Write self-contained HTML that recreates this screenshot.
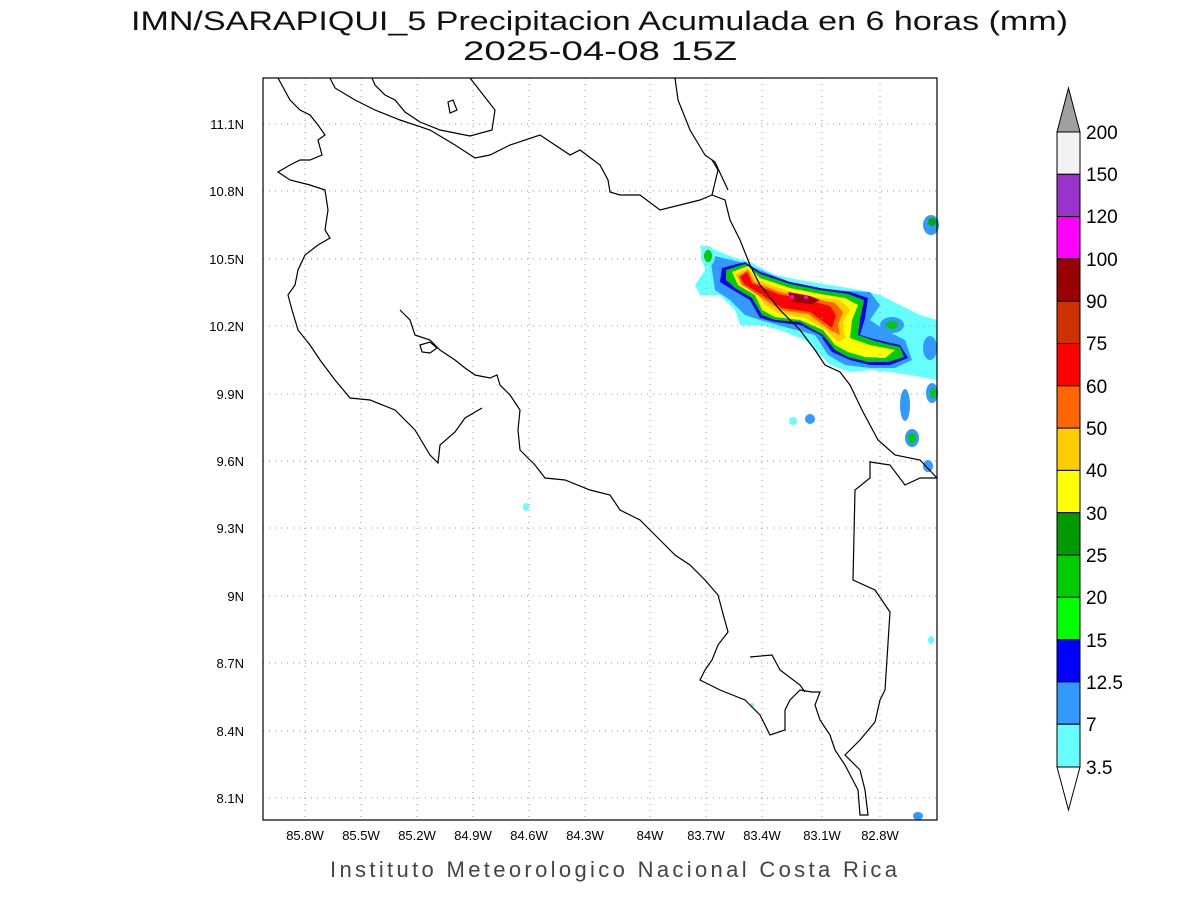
<!DOCTYPE html>
<html><head><meta charset="utf-8"><style>
html,body{margin:0;padding:0;background:#fff;}
svg text{font-family:"Liberation Sans",sans-serif;}
</style></head><body>
<svg width="1200" height="900" viewBox="0 0 1200 900" xmlns="http://www.w3.org/2000/svg">
<rect width="1200" height="900" fill="#fff"/>
<text x="131" y="30" font-size="27" textLength="937" lengthAdjust="spacingAndGlyphs" fill="#111">IMN/SARAPIQUI_5 Precipitacion Acumulada en 6 horas (mm)</text>
<text x="463" y="60" font-size="27" textLength="274" lengthAdjust="spacingAndGlyphs" fill="#111">2025-04-08 15Z</text>

<!-- precipitation -->
<g>
<path d="M700,245 L715,250 L735,258 L750,262 L775,275 L800,280 L830,285 L860,290 L880,295 L900,305 L920,315 L937,320 L937,380 L910,375 L890,372 L870,370 L850,372 L830,365 L820,355 L805,340 L780,330 L760,325 L740,325 L735,310 L720,295 L700,295 L695,285 L705,270 Z" fill="#66ffff"/>
<path d="M710,255 L740,262 L760,270 L790,282 L830,290 L870,292 L880,305 L870,320 L885,330 L905,340 L912,360 L895,368 L870,368 L845,365 L828,355 L815,335 L785,327 L760,320 L745,315 L730,300 L715,290 L712,270 Z" fill="#3399ff"/>
<path d="M722,268 L745,262 L760,272 L790,282 L820,288 L850,292 L868,298 L865,318 L860,335 L878,340 L900,345 L908,358 L890,365 L870,365 L850,360 L832,352 L820,335 L800,325 L775,322 L760,318 L750,300 L733,290 L720,282 Z" fill="#0000ee"/>
<path d="M726,270 L745,264 L760,274 L790,284 L820,290 L848,294 L864,300 L860,320 L858,335 L878,342 L900,347 L904,357 L888,362 L868,362 L848,357 L835,350 L823,335 L800,322 L775,320 L762,315 L752,298 L735,288 L726,280 Z" fill="#00cc00"/>
<path d="M732,272 L748,266 L760,278 L790,288 L820,294 L845,298 L858,305 L852,320 L850,338 L870,345 L895,350 L885,358 L865,357 L848,352 L835,345 L823,330 L800,320 L775,317 L762,310 L755,295 L738,285 Z" fill="#ffff00"/>
<path d="M735,274 L748,268 L757,280 L785,290 L815,297 L840,300 L850,310 L843,322 L845,338 L838,342 L826,330 L805,318 L780,314 L765,305 L757,293 L740,285 Z" fill="#ffcc00"/>
<path d="M738,276 L748,270 L754,282 L780,292 L810,298 L835,303 L843,312 L838,325 L840,335 L830,330 L808,314 L780,310 L768,302 L742,285 Z" fill="#ff6600"/>
<path d="M740,277 L747,272 L752,283 L778,294 L808,300 L830,306 L836,315 L832,328 L810,312 L782,308 L770,300 L744,284 Z" fill="#ff0000"/>
<path d="M788,292 L810,296 L820,300 L812,304 L792,302 Z" fill="#990000"/>
<circle cx="792" cy="297" r="2" fill="#ff00ff"/><circle cx="806" cy="297" r="2" fill="#ff00ff"/>
<ellipse cx="708" cy="256" rx="7" ry="10" fill="#66ffff"/><ellipse cx="708" cy="256" rx="4" ry="6" fill="#00cc00"/>
<ellipse cx="892" cy="325" rx="12" ry="8" fill="#3399ff"/><ellipse cx="892" cy="325" rx="6" ry="4" fill="#00cc00"/>
<ellipse cx="931" cy="225" rx="8" ry="10" fill="#3399ff"/><ellipse cx="932" cy="222" rx="4" ry="4" fill="#00aa00"/>
<ellipse cx="930" cy="348" rx="7" ry="12" fill="#3399ff"/>
<ellipse cx="932" cy="393" rx="6" ry="10" fill="#3399ff"/><ellipse cx="933" cy="393" rx="3" ry="5" fill="#00cc00"/>
<ellipse cx="905" cy="405" rx="5" ry="16" fill="#3399ff"/>
<ellipse cx="912" cy="438" rx="7" ry="9" fill="#3399ff"/><ellipse cx="912" cy="438" rx="4" ry="5" fill="#00cc00"/>
<ellipse cx="928" cy="466" rx="5" ry="6" fill="#3399ff"/>
<ellipse cx="810" cy="419" rx="5" ry="5" fill="#3399ff"/><ellipse cx="793" cy="421" rx="4" ry="4" fill="#66ffff"/>
<ellipse cx="526" cy="507" rx="3" ry="4" fill="#66ffff"/>
<ellipse cx="931" cy="640" rx="3" ry="4" fill="#66ffff"/>
<ellipse cx="918" cy="816" rx="5" ry="4" fill="#3399ff"/>
<ellipse cx="752" cy="705" rx="2" ry="2" fill="#66ffff"/>
</g>

<!-- grid -->
<g stroke="#999" stroke-width="1" stroke-dasharray="1,5">
<line x1="305" y1="78" x2="305" y2="820"/><line x1="361" y1="78" x2="361" y2="820"/><line x1="417" y1="78" x2="417" y2="820"/><line x1="473" y1="78" x2="473" y2="820"/><line x1="529" y1="78" x2="529" y2="820"/><line x1="585" y1="78" x2="585" y2="820"/><line x1="650" y1="78" x2="650" y2="820"/><line x1="706" y1="78" x2="706" y2="820"/><line x1="762" y1="78" x2="762" y2="820"/><line x1="822" y1="78" x2="822" y2="820"/><line x1="880" y1="78" x2="880" y2="820"/>
<line x1="263" y1="124" x2="937" y2="124"/><line x1="263" y1="191" x2="937" y2="191"/><line x1="263" y1="259" x2="937" y2="259"/><line x1="263" y1="326" x2="937" y2="326"/><line x1="263" y1="394" x2="937" y2="394"/><line x1="263" y1="461" x2="937" y2="461"/><line x1="263" y1="528" x2="937" y2="528"/><line x1="263" y1="596" x2="937" y2="596"/><line x1="263" y1="663" x2="937" y2="663"/><line x1="263" y1="731" x2="937" y2="731"/><line x1="263" y1="798" x2="937" y2="798"/>
</g>

<!-- coastlines -->
<g fill="none" stroke="#000" stroke-width="1.2">
<path d="M278,78 L290,100 L300,110 L310,115 L318,125 L325,135 L318,140 L322,155 L310,160 L300,160 L290,165 L278,172 L290,180 L310,185 L325,190 L328,210 L325,230 L330,238 L318,245 L305,255 L298,270 L295,285 L288,295 L292,310 L298,330 L310,345 L320,360 L335,380 L350,398 L370,400 L395,410 L415,430 L430,455 L438,463 L440,445 L455,432 L465,418 L482,408"/>
<path d="M400,310 L410,320 L415,335 L430,340 L440,350 L455,360 L465,368 L475,375 L490,378 L497,375 L500,385 L510,395 L520,410 L518,430 L520,450 L535,465 L545,478 L565,480 L590,490 L610,495 L620,510 L640,520 L660,540 L675,555 L690,565 L705,580 L718,595 L722,610 L728,632 L718,645 L712,660 L705,670 L700,680 L720,690 L745,700 L760,715 L770,735 L785,730 L785,710 L790,700 L800,690 L812,692 L820,692 L815,705 L820,720 L830,735 L835,750 L845,765 L858,790 L860,815 L868,815 L865,790 L860,770 L845,755 L860,740 L875,722 L880,700 L885,690 L890,612 L875,590 L853,580 L855,490 L870,478 L870,462 L890,465 L905,485 L920,478 L937,478"/>
<path d="M750,657 L772,655 L780,670 L800,685 L805,692"/>
<path d="M420,345 L430,342 L437,348 L430,353 L422,352 Z"/>
<path d="M330,78 L335,88 L355,100 L375,110 L400,120 L430,130 L455,145 L475,158 L490,155 L510,145 L540,135 L555,145 L570,155 L580,150 L600,165 L608,180 L610,192 L620,195 L640,195 L660,210 L680,205 L700,200 L712,195 L718,170 L712,160"/>
<path d="M675,78 L678,100 L690,130 L705,155 L715,162 L728,190"/>
<path d="M470,78 L495,110 L492,130 L470,136 L440,130 L420,122 L405,112 L395,100 L385,95 L375,85 L372,78"/>
<path d="M448,102 L453,100 L457,110 L450,113 Z"/>
<path d="M712,195 L725,200 L730,220 L740,240 L750,265 L760,285 L780,310 L800,330 L815,350 L825,365 L840,372 L850,385 L862,410 L878,440 L895,455 L920,460 L937,478"/>
</g>

<rect x="263" y="78" width="674" height="742" fill="none" stroke="#000" stroke-width="1.2"/>

<g font-size="13" fill="#000" text-anchor="middle">
<text x="305" y="840">85.8W</text><text x="361" y="840">85.5W</text><text x="417" y="840">85.2W</text><text x="473" y="840">84.9W</text><text x="529" y="840">84.6W</text><text x="585" y="840">84.3W</text><text x="650" y="840">84W</text><text x="706" y="840">83.7W</text><text x="762" y="840">83.4W</text><text x="822" y="840">83.1W</text><text x="880" y="840">82.8W</text>
</g>
<g font-size="13" fill="#000" text-anchor="end">
<text x="244" y="129">11.1N</text><text x="244" y="196">10.8N</text><text x="244" y="264">10.5N</text><text x="244" y="331">10.2N</text><text x="244" y="399">9.9N</text><text x="244" y="466">9.6N</text><text x="244" y="533">9.3N</text><text x="244" y="601">9N</text><text x="244" y="668">8.7N</text><text x="244" y="736">8.4N</text><text x="244" y="803">8.1N</text>
</g>
<text x="330" y="877" font-size="22" textLength="567" lengthAdjust="spacing" fill="#444">Instituto Meteorologico Nacional Costa Rica</text>

<!-- colorbar -->
<g stroke="#000" stroke-width="1">
<polygon points="1057,132 1080,132 1068.5,88" fill="#a0a0a0"/>
<rect x="1057" y="132" width="23" height="42.3" fill="#f2f2f2"/>
<rect x="1057" y="174.3" width="23" height="42.3" fill="#9933cc"/>
<rect x="1057" y="216.6" width="23" height="42.3" fill="#ff00ff"/>
<rect x="1057" y="258.9" width="23" height="42.3" fill="#990000"/>
<rect x="1057" y="301.2" width="23" height="42.3" fill="#cc3300"/>
<rect x="1057" y="343.5" width="23" height="42.3" fill="#ff0000"/>
<rect x="1057" y="385.8" width="23" height="42.3" fill="#ff6600"/>
<rect x="1057" y="428.1" width="23" height="42.3" fill="#ffcc00"/>
<rect x="1057" y="470.4" width="23" height="42.3" fill="#ffff00"/>
<rect x="1057" y="512.7" width="23" height="42.3" fill="#009900"/>
<rect x="1057" y="555" width="23" height="42.3" fill="#00cc00"/>
<rect x="1057" y="597.3" width="23" height="42.3" fill="#00ff00"/>
<rect x="1057" y="639.6" width="23" height="42.3" fill="#0000ff"/>
<rect x="1057" y="681.9" width="23" height="42.3" fill="#3399ff"/>
<rect x="1057" y="724.2" width="23" height="42.8" fill="#66ffff"/>
<polygon points="1057,767 1080,767 1068.5,810" fill="#fff"/>
</g>
<g font-size="19" fill="#000">
<text x="1086" y="139">200</text><text x="1086" y="181">150</text><text x="1086" y="223">120</text><text x="1086" y="266">100</text><text x="1086" y="308">90</text><text x="1086" y="350">75</text><text x="1086" y="393">60</text><text x="1086" y="435">50</text><text x="1086" y="477">40</text><text x="1086" y="520">30</text><text x="1086" y="562">25</text><text x="1086" y="604">20</text><text x="1086" y="647">15</text><text x="1086" y="689">12.5</text><text x="1086" y="731">7</text><text x="1086" y="774">3.5</text>
</g>
</svg>
</body></html>
